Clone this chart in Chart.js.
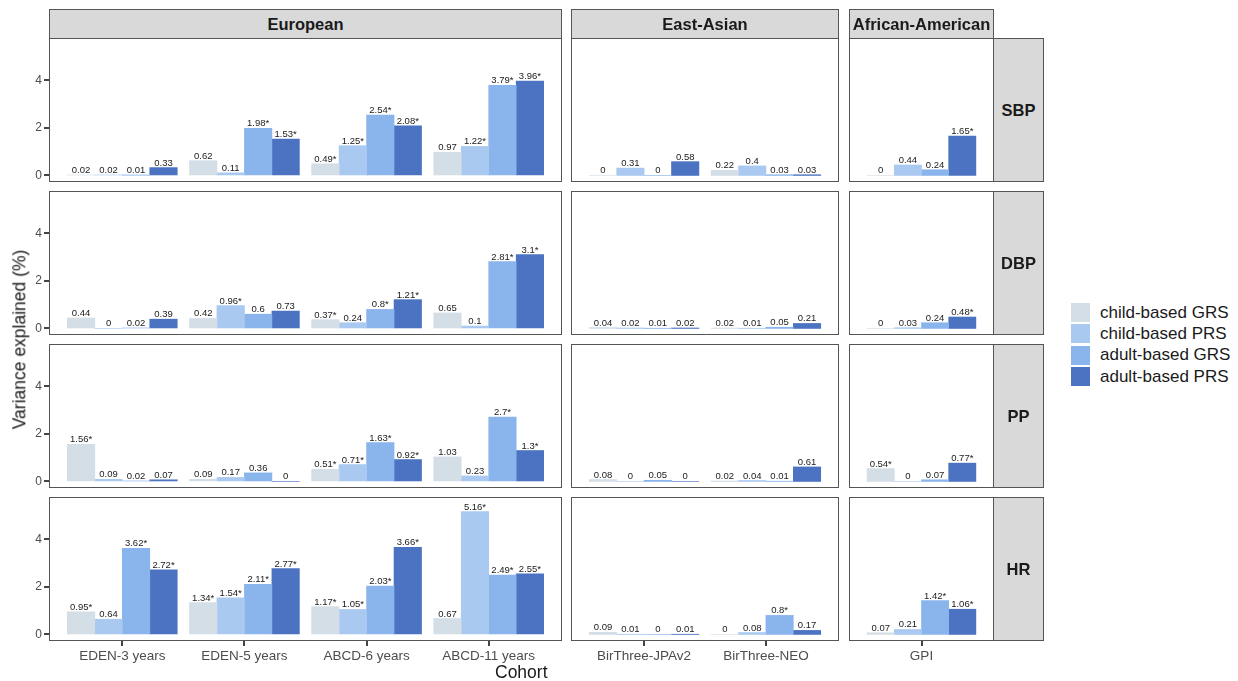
<!DOCTYPE html>
<html>
<head>
<meta charset="utf-8">
<script src="https://cdn.jsdelivr.net/npm/chart.js@4.4.1/dist/chart.umd.min.js"></script>
<style>
    body { margin: 0; background: #fff; font-family: "Liberation Sans", Arial, sans-serif; }
    #fig { position: relative; width: 1238px; height: 681px; overflow: hidden; }
    #fig canvas { position: absolute; }
    .strip {
        position: absolute; box-sizing: border-box;
        background: #d9d9d9; border: 1px solid #555;
        display: flex; align-items: center; justify-content: center;
        font-weight: bold; font-size: 16.5px; color: #1a1a1a;
    }
    .axis-title { position: absolute; font-size: 17.5px; color: #1a1a1a; white-space: nowrap; }
    #legend { position: absolute; left: 1071px; top: 302px; }
    .key { display: flex; align-items: center; height: 21.3px; font-size: 17px; color: #1a1a1a; }
    .key span { display: inline-block; width: 19px; height: 19px; margin-right: 10px; }
</style>
</head>
<body>
<div id="fig"></div>
<script>
// Cohorts (x categories) and the ancestry facet each belongs to
const cohorts = ['EDEN-3 years', 'EDEN-5 years', 'ABCD-6 years', 'ABCD-11 years', 'BirThree-JPAv2', 'BirThree-NEO', 'GPI'];
const ancestries = ['European', 'East-Asian', 'African-American'];
const cohortAncestry = [0, 0, 0, 0, 1, 1, 2];
const traits = ['SBP', 'DBP', 'PP', 'HR'];
const scoreTypes = ['child-based GRS', 'child-based PRS', 'adult-based GRS', 'adult-based PRS'];
const yTicks = [0, 2, 4];

// Variance explained (%), one row per cohort, columns in scoreTypes order
const sbpValues = [
    [0.02, 0.02, 0.01, 0.33], [0.62, 0.11, 1.98, 1.53], [0.49, 1.25, 2.54, 2.08], [0.97, 1.22, 3.79, 3.96],
    [0, 0.31, 0, 0.58], [0.22, 0.4, 0.03, 0.03], [0, 0.44, 0.24, 1.65]
];
const dbpValues = [
    [0.44, 0, 0.02, 0.39], [0.42, 0.96, 0.6, 0.73], [0.37, 0.24, 0.8, 1.21], [0.65, 0.1, 2.81, 3.1],
    [0.04, 0.02, 0.01, 0.02], [0.02, 0.01, 0.05, 0.21], [0, 0.03, 0.24, 0.48]
];
const ppValues = [
    [1.56, 0.09, 0.02, 0.07], [0.09, 0.17, 0.36, 0], [0.51, 0.71, 1.63, 0.92], [1.03, 0.23, 2.7, 1.3],
    [0.08, 0, 0.05, 0], [0.02, 0.04, 0.01, 0.61], [0.54, 0, 0.07, 0.77]
];
const hrValues = [
    [0.95, 0.64, 3.62, 2.72], [1.34, 1.54, 2.11, 2.77], [1.17, 1.05, 2.03, 3.66], [0.67, 5.16, 2.49, 2.55],
    [0.09, 0.01, 0, 0.01], [0, 0.08, 0.8, 0.17], [0.07, 0.21, 1.42, 1.06]
];

// Significance stars (1 = marked with *)
const sbpStars = [[0,0,0,0], [0,0,1,1], [1,1,1,1], [0,1,1,1], [0,0,0,0], [0,0,0,0], [0,0,0,1]];
const dbpStars = [[0,0,0,0], [0,1,0,0], [1,0,1,1], [0,0,1,1], [0,0,0,0], [0,0,0,0], [0,0,0,1]];
const ppStars  = [[1,0,0,0], [0,0,0,0], [1,1,1,1], [0,0,1,1], [0,0,0,0], [0,0,0,0], [1,0,0,1]];
const hrStars  = [[1,0,1,1], [1,1,1,1], [1,1,1,1], [0,1,1,1], [0,0,0,0], [0,0,1,0], [0,0,1,1]];

const traitValues = [sbpValues, dbpValues, ppValues, hrValues];
const traitStars = [sbpStars, dbpStars, ppStars, hrStars];

const scoreColors = ['#d4dee7', '#aac9f1', '#8ab4ec', '#4b73c1'];

// Layout of the facet grid
const colLeft = [49, 571, 849];
const colWidth = [513, 268, 145];
const rowTop = [38, 191, 344, 497];
const rowHeight = 144;
const yAxisWidth = 49;
const xAxisHeight = 26;
const tickLen = 5;
const fontFamily = '"Liberation Sans", Arial, sans-serif';

const fig = document.getElementById('fig');

// Value labels on top of bars
const barLabels = {
    id: 'barLabels',
    afterDatasetsDraw(chart) {
        const ctx = chart.ctx;
        ctx.save();
        ctx.font = `9.5px ${fontFamily}`;
        ctx.fillStyle = '#1a1a1a';
        ctx.textAlign = 'center';
        ctx.textBaseline = 'alphabetic';
        chart.data.datasets.forEach((ds, i) => {
            chart.getDatasetMeta(i).data.forEach((bar, j) => {
                ctx.fillText(ds.valueLabels[j], bar.x, bar.y - 2);
            });
        });
        ctx.restore();
    }
};

// Panel border and axis tick marks
const panelBorder = {
    id: 'panelBorder',
    afterDraw(chart) {
        const area = chart.chartArea;
        const ctx = chart.ctx;
        ctx.save();
        ctx.strokeStyle = '#555';
        ctx.lineWidth = 1;
        ctx.strokeRect(area.left + 0.5, area.top + 0.5, area.width - 1, area.height - 1);

        // tick marks, placed through the scales
        ctx.fillStyle = '#444';
        const xs = chart.scales.x;
        if (xs.options.display) {
            xs.ticks.forEach(t => {
                const px = Math.round(xs.getPixelForValue(t.value));
                ctx.fillRect(px - 1, area.bottom, 2, tickLen);
            });
        }
        const ys = chart.scales.y;
        if (ys.options.display) {
            ys.ticks.forEach(t => {
                const py = Math.round(ys.getPixelForValue(t.value));
                ctx.fillRect(area.left - tickLen, py - 1, tickLen, 2);
            });
        }
        ctx.restore();
    }
};

const makePanel = (r, c) => {
    const idx = cohorts.map((_, i) => i).filter(i => cohortAncestry[i] === c);
    const values = traitValues[r];
    const stars = traitStars[r];
    // discrete axis: n-1 steps plus 0.6 expansion on each side; dodge width 0.9
    const unit = colWidth[c] / (idx.length - 1 + 1.2);
    const barThickness = unit * 0.225;

    const canvas = document.createElement('canvas');
    const left = c === 0 ? colLeft[c] - yAxisWidth : colLeft[c];
    const width = colWidth[c] + (c === 0 ? yAxisWidth : 0);
    const height = rowHeight + (r === 3 ? xAxisHeight : 0);
    canvas.width = width;
    canvas.height = height;
    canvas.style.left = left + 'px';
    canvas.style.top = rowTop[r] + 'px';
    canvas.style.width = width + 'px';
    canvas.style.height = height + 'px';
    fig.appendChild(canvas);

    const datasets = scoreTypes.map((name, s) => ({
        label: name,
        data: idx.map((ci, j) => ({ x: j, y: values[ci][s] })),
        valueLabels: idx.map(ci => String(values[ci][s]) + (stars[ci][s] ? '*' : '')),
        backgroundColor: scoreColors[s],
        borderWidth: 0,
        barThickness: barThickness
    }));

    new Chart(canvas.getContext('2d'), {
        type: 'bar',
        data: { datasets },
        options: {
            responsive: false,
            animation: false,
            layout: { padding: 0 },
            plugins: { legend: { display: false }, tooltip: { enabled: false } },
            scales: {
                x: {
                    type: 'linear',
                    offset: false,
                    min: -0.6,
                    max: idx.length - 0.4,
                    display: r === 3,
                    afterBuildTicks: s => { s.ticks = idx.map((_, j) => ({ value: j })); },
                    afterFit: s => { s.height = r === 3 ? xAxisHeight : 0; s.paddingLeft = 0; s.paddingRight = 0; },
                    ticks: {
                        callback: v => cohorts[idx[v]],
                        color: '#4d4d4d',
                        font: { size: 13.5, family: fontFamily },
                        padding: 2,
                        maxRotation: 0,
                        autoSkip: false
                    },
                    grid: { offset: false, drawOnChartArea: false, drawTicks: true, tickLength: tickLen, color: '#444' },
                    border: { display: false }
                },
                y: {
                    type: 'linear',
                    min: -0.275,
                    max: 5.775,
                    display: c === 0,
                    afterBuildTicks: s => { s.ticks = yTicks.map(v => ({ value: v })); },
                    afterFit: s => { s.width = c === 0 ? yAxisWidth : 0; s.paddingTop = 0; s.paddingBottom = 0; },
                    ticks: {
                        color: '#4d4d4d',
                        font: { size: 12, family: fontFamily },
                        padding: 2
                    },
                    grid: { drawOnChartArea: false, drawTicks: true, tickLength: tickLen, color: '#444' },
                    border: { display: false }
                }
            }
        },
        plugins: [barLabels, panelBorder]
    });
};

traits.forEach((_, r) => ancestries.forEach((_, c) => makePanel(r, c)));

// Facet strips
ancestries.forEach((name, c) => {
    const d = document.createElement('div');
    d.className = 'strip';
    d.textContent = name;
    Object.assign(d.style, { left: colLeft[c] + 'px', top: '9px', width: colWidth[c] + 'px', height: '30px' });
    fig.appendChild(d);
});
traits.forEach((name, r) => {
    const d = document.createElement('div');
    d.className = 'strip';
    d.textContent = name;
    const x = colLeft[2] + colWidth[2] - 1;
    Object.assign(d.style, { left: x + 'px', top: rowTop[r] + 'px', width: '51px', height: rowHeight + 'px' });
    fig.appendChild(d);
});

// Axis titles
const yTitle = document.createElement('div');
yTitle.className = 'axis-title';
yTitle.textContent = 'Variance explained (%)';
fig.appendChild(yTitle);
const yMid = (rowTop[0] + rowTop[3] + rowHeight) / 2;
yTitle.style.left = (20 - yTitle.offsetWidth / 2) + 'px';
yTitle.style.top = (yMid - yTitle.offsetHeight / 2) + 'px';
yTitle.style.transform = 'rotate(-90deg)';

const xTitle = document.createElement('div');
xTitle.className = 'axis-title';
xTitle.textContent = 'Cohort';
fig.appendChild(xTitle);
const xMid = (colLeft[0] + colLeft[2] + colWidth[2]) / 2;
xTitle.style.left = (xMid - xTitle.offsetWidth / 2) + 'px';
xTitle.style.top = (672 - xTitle.offsetHeight / 2) + 'px';

// Legend
const legend = document.createElement('div');
legend.id = 'legend';
scoreTypes.forEach((name, s) => {
    const row = document.createElement('div');
    row.className = 'key';
    const sw = document.createElement('span');
    sw.style.background = scoreColors[s];
    row.appendChild(sw);
    row.appendChild(document.createTextNode(name));
    legend.appendChild(row);
});
fig.appendChild(legend);
</script>
</body>
</html>
